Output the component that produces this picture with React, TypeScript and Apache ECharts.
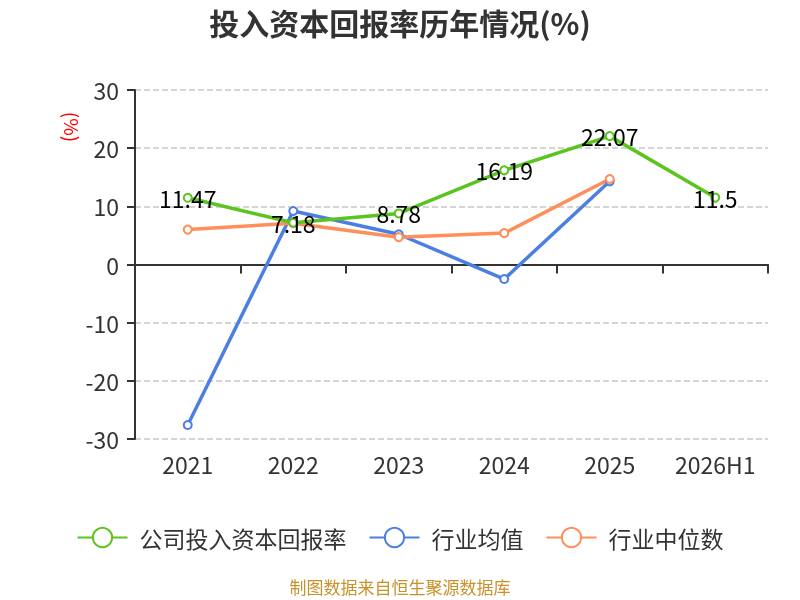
import React, { useEffect, useRef } from "react";
import * as echarts from "echarts";

const categories = ["2021", "2022", "2023", "2024", "2025", "2026H1"];
const companyValues = [11.47, 7.18, 8.78, 16.19, 22.07, 11.5];
const industryAvg = [-27.6, 9.2, 5.2, -2.5, 14.3, null];
const industryMedian = [6.0, 7.1, 4.7, 5.4, 14.7, null];
const seriesNames = ["公司投入资本回报率", "行业均值", "行业中位数"];
const colors = ["#5bc41e", "#4b7fe1", "#ff8f5a"];

const FONT = "'Noto Sans CJK SC', 'Noto Sans', sans-serif";

export default function App() {
  const ref = useRef<HTMLDivElement>(null);
  useEffect(() => {
    if (!ref.current) return;
    const chart = echarts.init(ref.current, null, { renderer: "svg" });
    const dataSets = [companyValues, industryAvg, industryMedian];
    chart.setOption({
      animation: false,
      textStyle: { fontFamily: FONT },
      title: {
        text: "投入资本回报率历年情况(%)",
        left: "center",
        top: 2,
        textStyle: { fontSize: 30, fontWeight: "bold", color: "#333", fontFamily: FONT },
      },
      legend: {
        bottom: 46,
        left: "center",
        itemWidth: 50,
        itemHeight: 24,
        itemGap: 22,
        textStyle: { fontSize: 23, color: "#333", fontFamily: FONT, padding: [0, 0, 0, 7] },
        data: seriesNames,
      },
      grid: { left: 135, right: 32, top: 90, bottom: 161, containLabel: false },
      xAxis: [
        {
          type: "category",
          data: categories,
          position: "bottom",
          axisLine: { show: false, onZero: false },
          axisTick: { show: false },
          axisLabel: { fontSize: 23, color: "#333", margin: 13, fontFamily: FONT },
        },
        {
          type: "category",
          data: categories,
          position: "bottom",
          axisLine: { show: true, onZero: true, lineStyle: { color: "#333", width: 2 } },
          axisTick: { show: true, length: 9, lineStyle: { color: "#333", width: 2 } },
          axisLabel: { show: false },
        },
      ],
      yAxis: {
        type: "value",
        min: -30,
        max: 30,
        interval: 10,
        axisLine: { show: true, lineStyle: { color: "#333", width: 2 } },
        axisTick: { show: true, length: 8, lineStyle: { color: "#333", width: 2 } },
        axisLabel: { fontSize: 23, color: "#333", margin: 16, fontFamily: FONT },
        splitLine: { show: true, lineStyle: { type: "dashed", color: "#c8c8c8", width: 1.5 } },
      },
      graphic: [
        {
          type: "text",
          x: 72,
          y: 127,
          rotation: -Math.PI / 2,
          style: {
            text: "(%)",
            fill: "#ff0000",
            fontSize: 19,
            fontFamily: FONT,
            align: "center",
            verticalAlign: "middle",
          },
        },
        {
          type: "text",
          x: 400,
          y: 586,
          style: {
            text: "制图数据来自恒生聚源数据库",
            fill: "#c8922a",
            fontSize: 17,
            fontFamily: FONT,
            align: "center",
            verticalAlign: "middle",
          },
        },
      ],
      series: seriesNames.map((name, i) => ({
        name,
        type: "line",
        xAxisIndex: 0,
        data: dataSets[i],
        symbol: "emptyCircle",
        symbolSize: 8,
        showSymbol: true,
        z: i === 0 ? 3 : 2,
        lineStyle: { width: 3.5, color: colors[i] },
        itemStyle: { color: colors[i], borderWidth: 1.5 },
        label: i === 0
          ? {
              show: true,
              position: "inside",
              color: "#000",
              fontSize: 23,
              fontFamily: FONT,
            }
          : { show: false },
      })),
    });
    return () => chart.dispose();
  }, []);
  return (
    <div
      ref={ref}
      style={{ position: "fixed", left: 0, top: 0, width: 800, height: 600 }}
    />
  );
}
